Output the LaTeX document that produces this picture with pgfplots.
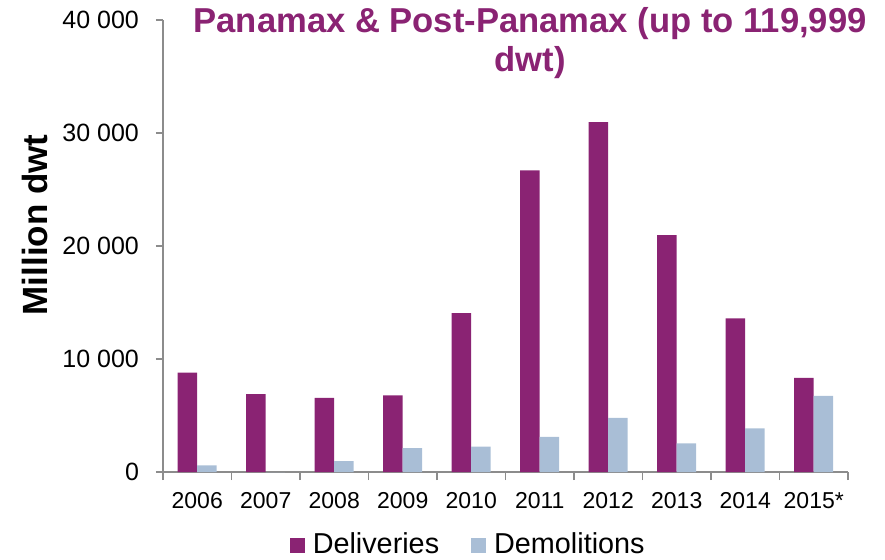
\documentclass[border=0pt]{standalone}
\usepackage{fontspec}
\setmainfont{Liberation Sans}
\usepackage{pgfplots}
\pgfplotsset{compat=1.18}
\definecolor{deliv}{HTML}{8A2373}
\definecolor{demol}{HTML}{A9BED6}
\definecolor{axgray}{HTML}{8C8C8C}
\begin{document}
\begin{tikzpicture}
\useasboundingbox (-81.5pt,-43.5pt) rectangle (361pt,236pt);
\begin{axis}[
  at={(0,0)}, anchor=south west,
  scale only axis, width=342.5pt, height=226pt,
  ybar=0pt, bar width=9.75pt,
  xmin=-0.5, xmax=9.5, ymin=0, ymax=40000,
  xtick={0,...,9},
  xticklabels={2006,2007,2008,2009,2010,2011,2012,2013,2014,2015*},
  minor xtick={-0.5,0.5,...,9.5},
  ytick={0,10000,20000,30000,40000},
  scaled y ticks=false,
  /pgf/number format/assume math mode=true,
  /pgf/number format/fixed,
  /pgf/number format/1000 sep={\ },
  yticklabel style={font=\fontsize{12.5}{15}\selectfont, xshift=-5pt},
  xticklabel style={font=\fontsize{11.5}{14}\selectfont, yshift=-3pt},
  axis x line*=bottom, axis y line*=left,
  axis line style={axgray, line width=0.75pt},
  tick style={axgray, line width=0.75pt},
  major x tick style={draw=none},
  tick align=outside,
  major tick length=3.5pt, minor tick length=4pt,
  ylabel={Million dwt},
  ylabel style={at={(axis description cs:-0.187,0.547)}, anchor=center, font=\fontsize{17.5}{21}\selectfont\bfseries},
  title={Panamax \& Post-Panamax (up to 119,999\\dwt)},
  title style={at={(axis description cs:0.536,1.018)}, anchor=north, align=center, font=\fontsize{17.3}{19.5}\selectfont\bfseries, text=deliv},
  legend style={at={(axis description cs:0.447,-0.16)}, anchor=center, draw=none, legend columns=2,
    font=\fontsize{14.4}{17}\selectfont,
    /tikz/every even column/.append style={column sep=14pt}},
  legend image code/.code={\fill[#1] (0pt,-4.5pt) rectangle (7.5pt,3pt); \path (9.5pt,0pt);},
]
\addplot[fill=deliv, draw=none] coordinates {
  (0,8800) (1,6900) (2,6550) (3,6790) (4,14070)
  (5,26700) (6,30970) (7,20970) (8,13600) (9,8320)};
\addlegendentry{Deliveries}
\addplot[fill=demol, draw=none] coordinates {
  (0,590) (1,0) (2,970) (3,2120) (4,2240)
  (5,3100) (6,4780) (7,2540) (8,3860) (9,6730)};
\addlegendentry{Demolitions}
\end{axis}
\end{tikzpicture}
\end{document}
